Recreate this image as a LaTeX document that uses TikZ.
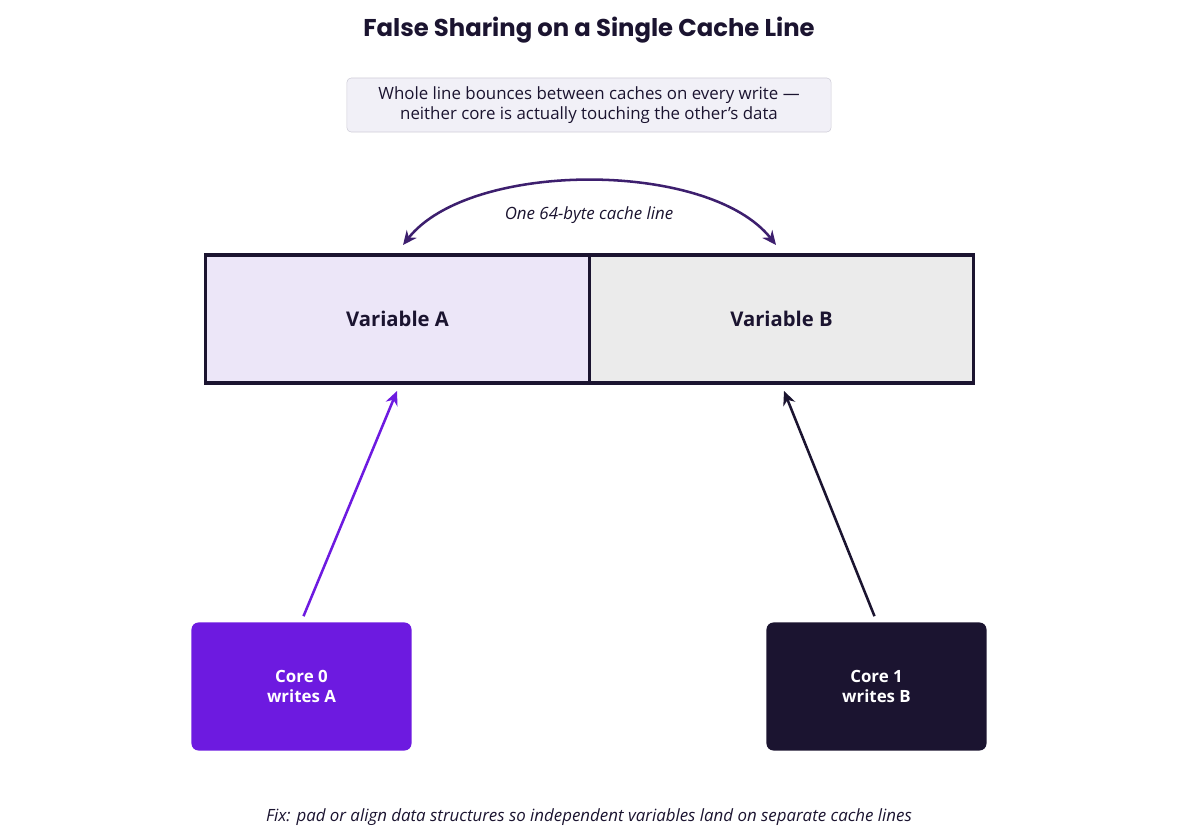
\documentclass[tikz,border=0pt]{standalone}
\usepackage{fontspec}
\setmainfont{Open Sans}
\newfontfamily\titlefont{Poppins}
\usetikzlibrary{arrows.meta}
\definecolor{inkdark}{HTML}{1B1430}
\definecolor{arcpurple}{HTML}{3D1F6E}
\definecolor{corepurple}{HTML}{6D1AE0}
\definecolor{varafill}{HTML}{ECE6F8}
\definecolor{varbfill}{HTML}{EBEBEB}
\definecolor{notefill}{HTML}{F1F0F7}
\definecolor{noteline}{HTML}{CFCDD8}
\begin{document}
\begin{tikzpicture}[x=0.025cm,y=-0.025cm,
    varbox/.style={draw=inkdark,line width=2.2pt,minimum width=9.6cm,minimum height=3.2cm,inner sep=0pt,font=\bfseries\Large,text=inkdark},
    corebox/.style={rounded corners=5pt,minimum width=5.5cm,minimum height=3.2cm,text=white,font=\bfseries\large,align=center,inner sep=0pt},
    wr/.style={-{Stealth[length=10pt,width=9pt]},line width=1.8pt}]
  \useasboundingbox (0,0) rectangle (1178,840);
  \node[font=\titlefont\bfseries\LARGE,text=inkdark] (title) at (589,30) {False Sharing on a Single Cache Line};
  \node[draw=noteline,fill=notefill,rounded corners=3pt,align=center,font=\large,minimum width=12.1cm,minimum height=1.35cm,inner sep=2pt,text=inkdark] (note) at (589,105)
    {Whole line bounces between caches on every write ---\\neither core is actually touching the other's data};

  \node[varbox,fill=varafill] (varA) at (397.5,319) {Variable A};
  \node[varbox,fill=varbfill] (varB) at (781.5,319) {Variable B};

  % shared line span
  \coordinate (arcL) at (403,245);
  \coordinate (arcR) at (776,245);
  \draw[{Stealth[length=10pt,width=9pt]}-{Stealth[length=10pt,width=9pt]},line width=1.8pt,arcpurple] (arcL) .. controls (470,160) and (709,160) .. (arcR);
  \node[font=\large\itshape,text=inkdark] (span) at (589,215) {One 64-byte cache line};

  \node[corebox,fill=corepurple] (core0) at (301.5,686.5) {Core 0\\writes A};
  \node[corebox,fill=inkdark] (core1) at (876.5,686.5) {Core 1\\writes B};
  \coordinate (hitA) at (397,391);
  \coordinate (hitB) at (784,391);
  \draw[wr,corepurple] (core0.north) ++(2,-6) coordinate (c0t) (c0t) -- (hitA);
  \draw[wr,inkdark] (core1.north) ++(-2,-6) coordinate (c1t) (c1t) -- (hitB);

  \node[font=\large\itshape,text=inkdark] (fix) at (589,817) {Fix: pad or align data structures so independent variables land on separate cache lines};
\end{tikzpicture}
\end{document}
